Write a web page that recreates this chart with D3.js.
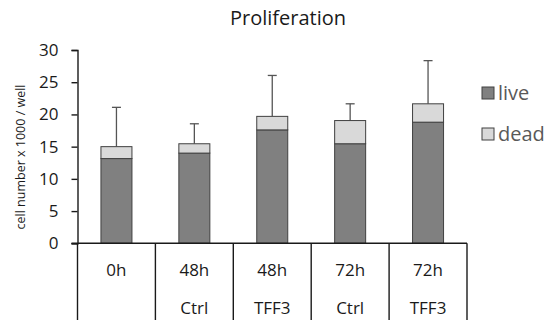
<!DOCTYPE html>
<html>
<head>
<meta charset="utf-8">
<script src="https://cdn.jsdelivr.net/npm/d3@7"></script>
<style>
  body { margin: 0; background: #fff; }
  svg { font-family: "Open Sans", sans-serif; }
</style>
</head>
<body>
<svg id="drawing_region"></svg>
<script>
// data
const times = ["0h", "48h", "48h", "72h", "72h"];
const groups = ["", "Ctrl", "TFF3", "Ctrl", "TFF3"];
const live = [13.15, 14.0, 17.6, 15.45, 18.8];
const dead = [1.85, 1.45, 2.1, 3.6, 2.85];
const errUp = [6.1, 3.1, 6.35, 2.6, 6.7];
const yTicks = [0, 5, 10, 15, 20, 25, 30];

const width = 550, height = 330;
const plotLeft = 77.5, plotRight = 467, plotTop = 50, plotBottom = 243.3;

const svg = d3.select('#drawing_region')
    .attr('width', width)
    .attr('height', height);

const idx = d3.range(times.length);

const x = d3.scaleBand()
    .domain(idx)
    .range([plotLeft, plotRight])
    .padding(0);

const y = d3.scaleLinear()
    .domain([0, 30])
    .range([plotBottom, plotTop]);

const barW = 31;

// title
svg.append('text')
    .attr('x', 288)
    .attr('y', 25)
    .attr('text-anchor', 'middle')
    .attr('font-size', 20)
    .attr('fill', '#1a1a1a')
    .text('Proliferation');

// y label
svg.append('text')
    .attr('transform', `translate(25, 157) rotate(-90)`)
    .attr('text-anchor', 'middle')
    .attr('font-size', 12.5)
    .attr('fill', '#1a1a1a')
    .text('cell number x 1000 / well');

// error bars (behind bars)
const err = svg.append('g');
idx.forEach(i => {
    const cx = x(i) + x.bandwidth() / 2;
    const t = live[i] + dead[i];
    err.append('line')
        .attr('x1', cx).attr('x2', cx)
        .attr('y1', y(t)).attr('y2', y(t + errUp[i]))
        .attr('stroke', '#555').attr('stroke-width', 1.3);
    err.append('line')
        .attr('x1', cx - 4.5).attr('x2', cx + 4.5)
        .attr('y1', y(t + errUp[i])).attr('y2', y(t + errUp[i]))
        .attr('stroke', '#555').attr('stroke-width', 1.3);
});

// stacked bars
const bars = svg.append('g');
bars.selectAll('rect.live')
    .data(idx)
    .enter()
    .append('rect')
    .attr('x', i => x(i) + (x.bandwidth() - barW) / 2)
    .attr('width', barW)
    .attr('y', i => y(live[i]))
    .attr('height', i => y(0) - y(live[i]))
    .attr('fill', '#808080')
    .attr('stroke', '#404040')
    .attr('stroke-width', 1);

bars.selectAll('rect.dead')
    .data(idx)
    .enter()
    .append('rect')
    .attr('x', i => x(i) + (x.bandwidth() - barW) / 2)
    .attr('width', barW)
    .attr('y', i => y(live[i] + dead[i]))
    .attr('height', i => y(live[i]) - y(live[i] + dead[i]))
    .attr('fill', '#d9d9d9')
    .attr('stroke', '#404040')
    .attr('stroke-width', 1);

// y axis
const yAxis = svg.append('g')
    .attr('transform', `translate(${plotLeft},0)`)
    .call(d3.axisLeft(y).tickValues(yTicks).tickSize(6).tickPadding(13));
yAxis.select('.domain').attr('stroke', '#1a1a1a').attr('stroke-width', 1.4);
yAxis.selectAll('.tick line').attr('stroke', '#1a1a1a').attr('stroke-width', 1.4);
yAxis.selectAll('.tick text')
    .attr('font-size', 17)
    .attr('font-family', '"Open Sans", sans-serif')
    .attr('fill', '#1a1a1a');

// x axis line
svg.append('line')
    .attr('x1', plotLeft - 6).attr('x2', plotRight)
    .attr('y1', y(0)).attr('y2', y(0))
    .attr('stroke', '#1a1a1a').attr('stroke-width', 1.4);

// category dividers
const edges = idx.map(i => x(i)).concat([plotRight]);
svg.append('g').selectAll('line')
    .data(edges)
    .enter()
    .append('line')
    .attr('x1', d => d).attr('x2', d => d)
    .attr('y1', y(0)).attr('y2', 320)
    .attr('stroke', '#1a1a1a').attr('stroke-width', 1.4);

// category labels
const cats = svg.append('g').attr('font-size', 17).attr('fill', '#1a1a1a').attr('text-anchor', 'middle');
idx.forEach(i => {
    const cx = x(i) + x.bandwidth() / 2;
    cats.append('text').attr('x', cx).attr('y', 276).text(times[i]);
    cats.append('text').attr('x', cx).attr('y', 314).text(groups[i]);
});

// legend
const legend = svg.append('g');
const legendItems = [["live", '#808080'], ["dead", '#d9d9d9']];
legendItems.forEach((d, i) => {
    const ly = 87 + i * 41;
    legend.append('rect')
        .attr('x', 482).attr('y', ly)
        .attr('width', 12).attr('height', 12)
        .attr('fill', d[1])
        .attr('stroke', '#404040');
    legend.append('text')
        .attr('x', 498).attr('y', ly + 12.5)
        .attr('font-size', 20)
        .attr('fill', '#595959')
        .text(d[0]);
});
</script>
</body>
</html>
